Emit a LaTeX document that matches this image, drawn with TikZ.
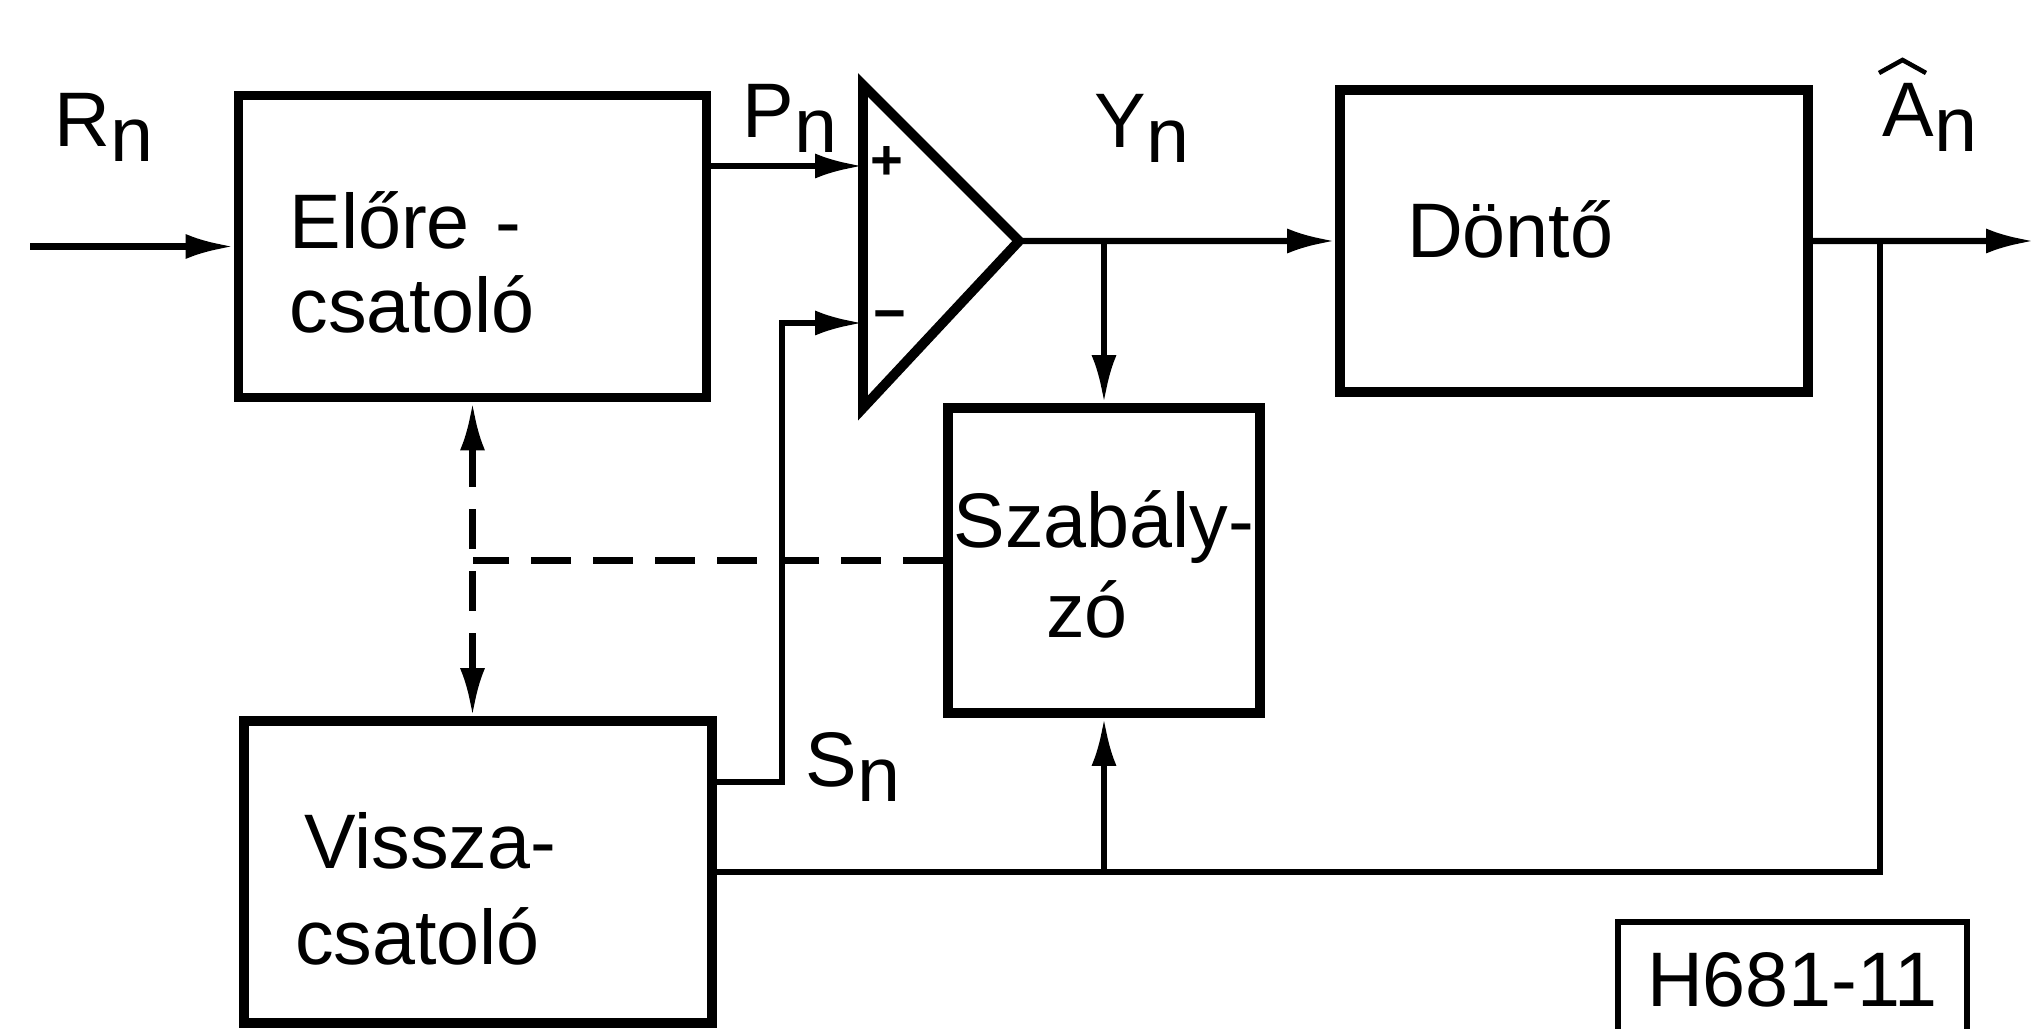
\documentclass[tikz,border=0pt]{standalone}
\usepackage{fontspec}
\setmainfont{Liberation Sans}
\usetikzlibrary{arrows.meta,positioning,calc}
\newcommand{\lown}[1]{\raisebox{-1.5mm}{#1}}
\newcommand{\roomup}[1]{\rule{0pt}{#1}}

\begin{document}
\begin{tikzpicture}[
  x=1mm,y=1mm,
  font=\fontsize{22pt}{24pt}\selectfont,
  blk/.style={draw,line width=2.8pt,minimum width=46.8mm,minimum height=30.2mm,
              text width=36.6mm,align=left,inner sep=0pt},
  regbox/.style={draw,line width=2.8pt,minimum width=31.2mm,minimum height=30.5mm,
                 align=center,inner sep=0pt},
  tag/.style={draw,line width=1.8pt,minimum width=34.9mm,minimum height=11.6mm,inner sep=0pt},
  lbl/.style={anchor=base west,inner sep=0pt},
  sign/.style={inner sep=0pt,font=\fontsize{16pt}{16pt}\selectfont\bfseries},
  amp/.style={line width=2.8pt,line join=miter},
  wire/.style={line width=1.8pt},
  hat/.style={line width=1.3pt,line join=miter},
  link/.style={wire,-{Latex[length=4.8mm,width=2.5mm]}},
  ctrl/.style={wire,dash pattern=on 4mm off 2.2mm}
]
\useasboundingbox (0,0) rectangle (203.6,-102.9);
\clip (0,0) rectangle (203.6,-102.9);

% blocks
\node[blk] (fwd) at (47.25,-24.65) {\roomup{8.87mm}Előre -\\csatoló};
\node[blk,below=31.37mm of fwd,xshift=0.55mm] (fb) {\roomup{9mm}\hspace*{0.9mm}Vissza-\\[1.23mm]csatoló};
\node[blk,right=62.37mm of fwd,yshift=0.55mm,text width=33.4mm] (dec) {\rule[-3.1mm]{0pt}{9.6mm}Döntő};
\node[regbox] (reg) at (110.4,-56.05) {\roomup{6.5mm}Szabály-\\[0.63mm]zó\hspace*{3.4mm}};
\node[tag] (code) at (179.25,-98.0) {H681-11};

% amplifier
\coordinate (amptop) at (86.3,-8.5);
\coordinate (ampbot) at (86.3,-40.8);
\coordinate (ampout) at (101.9,-24.1);
\coordinate (ampplus) at (86.3,-16.6);
\coordinate (ampminus) at (86.3,-32.3);
\draw[amp] (amptop) -- (ampout) -- (ampbot) -- cycle;
\node[sign] (plus) at (88.7,-16.3) {+};
\node[sign] (minus) at (89.0,-32.2) {−};

% signals
\coordinate (inp) at (3.0,-24.65);
\coordinate (sbend) at (78.2,-32.3);
\coordinate (tap) at (188.0,-24.1);
\coordinate (outend) at (203.4,-24.1);
\draw[link] (inp) -- (fwd.west);
\draw[link] (fwd.east |- ampplus) -- (ampplus);
\draw[link] ($(fb.north east)+(0,-6.6)$) -| (sbend) -- (ampminus);
\draw[link] (ampout) -- (dec.west);
\draw[link] (reg.north |- ampout) -- (reg.north);
\draw[link] (dec.east) -- (outend);
\draw[wire] (tap) |- (fb.east);
\draw[link] (reg.south |- fb.east) -- (reg.south);

% control paths
\draw[ctrl,{Latex[length=4.8mm,width=2.5mm]}-{Latex[length=4.8mm,width=2.5mm]}]
  (fwd.south) -- (fwd.south |- fb.north);
\draw[ctrl] (reg.west) -- (reg.west -| fwd.south);

% labels
\node[lbl] (rn) at (5.4,-14.7) {R\lown{n}};
\node[lbl] (pn) at (74.2,-13.8) {P\lown{n}};
\node[lbl] (yn) at (109.4,-14.8) {Y\lown{n}};
\node[lbl] (sn) at (80.5,-78.7) {S\lown{n}};
\node[lbl] (an) at (188.2,-13.7) {A\lown{n}};
\draw[hat] ($(an.base west)+(-0.3,6.4)$) -- ++(2.35,1.3) -- ++(2.35,-1.3);
\end{tikzpicture}
\end{document}
